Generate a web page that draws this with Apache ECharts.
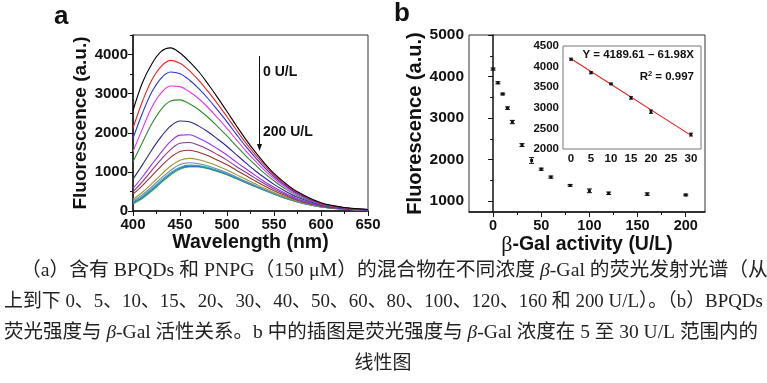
<!DOCTYPE html>
<html><head><meta charset="utf-8">
<script src="https://cdn.jsdelivr.net/npm/echarts@6/dist/echarts.min.js"></script>
<style>html,body{margin:0;padding:0;background:#fff}#c{width:767px;height:383px}</style>
</head><body><div id="c"></div>
<script>
// ---------- Panel a: emission spectra ----------
const wavelengths = [400,410,420,430,440,450,460,470,480,490,500,510,520,530,540,550,560,575,600,625,650];
const concLabels = ['0','5','10','15','20','30','40','50','60','80','100','120','160','200'];
const spec0   = [2570,3280,3760,4080,4170,4040,3820,3560,3240,2900,2545,2180,1830,1510,1220,960,750,490,210,90,40];
const spec5   = [2120,2800,3350,3700,3850,3780,3590,3340,3050,2740,2410,2070,1740,1440,1170,920,720,470,200,85,38];
const spec10  = [1860,2500,3040,3400,3555,3510,3350,3130,2870,2580,2280,1960,1650,1370,1110,880,690,450,190,80,36];
const spec15  = [1520,2100,2650,3020,3195,3180,3050,2870,2640,2380,2110,1820,1540,1280,1040,830,650,420,180,76,34];
const spec20  = [1260,1750,2230,2600,2810,2840,2740,2590,2390,2160,1920,1660,1410,1180,960,770,600,390,170,72,32];
const spec30  = [815,1180,1560,1900,2170,2300,2280,2170,2020,1840,1650,1440,1230,1030,850,680,535,350,155,66,30];
const spec40  = [576,870,1190,1500,1780,1940,1950,1860,1740,1590,1430,1250,1080,910,750,605,480,315,140,60,28];
const spec50  = [490,750,1040,1320,1570,1730,1750,1680,1570,1440,1300,1140,990,840,695,565,450,295,132,57,27];
const spec60  = [430,650,900,1150,1370,1520,1555,1500,1410,1300,1180,1040,905,770,640,520,415,275,124,54,26];
const spec80  = [300,480,700,930,1150,1300,1345,1310,1240,1150,1050,930,810,695,580,475,380,255,115,50,24];
const spec100 = [260,420,620,840,1040,1190,1232,1210,1150,1070,980,870,760,655,550,450,360,243,110,48,23];
const spec120 = [230,380,570,780,980,1120,1172,1160,1110,1035,950,845,740,638,535,440,352,237,107,47,22];
const spec160 = [205,350,540,750,950,1095,1148,1140,1095,1020,935,835,730,630,528,434,347,233,105,46,22];
const spec200 = [180,320,510,720,920,1070,1128,1125,1080,1008,925,825,722,622,522,428,342,230,103,45,21];
const spectra = [spec0,spec5,spec10,spec15,spec20,spec30,spec40,spec50,spec60,spec80,spec100,spec120,spec160,spec200];
const lineColors = ['#000000','#ee2222','#2233dd','#ee33ee','#2e8b2e','#2a2a88','#9933ee','#8a3a8a','#993333','#9a9a30','#6f86a8','#2aa6c0','#3a5fc8','#33bb33'];
const aYTicks = [0,1000,2000,3000,4000];
const aYMinor = [500,1500,2500,3500,4500];

// ---------- Panel b: intensity vs activity ----------
const activity        = [0,5,10,15,20,30,40,50,60,80,100,120,160,200];
const fluorescence    = [4180,3850,3580,3240,2905,2350,1980,1770,1580,1380,1250,1190,1170,1150];
const fluorescenceErr = [25,25,20,30,40,35,70,25,25,20,45,30,30,20];
const bXTicks = [0,50,100,150,200];
const bXMinor = [25,75,125,175];
const bYTicks = [1000,2000,3000,4000,5000];
const bYMinor = [1500,2500,3500,4500];

// ---------- Inset: linear range ----------
const insetCount = 6;
const fitLine = [[0,4189.61],[30,2330.21]];
const insetXTicks = [0,5,10,15,20,25,30];
const insetYTicks = [2000,2500,3000,3500,4000,4500];
const fitText = 'Y = 4189.61 – 61.98X';

const SANS = "'Liberation Sans', Arial, sans-serif";
const SERIF = "'Liberation Serif', 'Times New Roman', serif";
const CJK = "'Liberation Serif', 'Noto Sans CJK SC', serif";

const chart = echarts.init(document.getElementById('c'), null, {renderer:'canvas'});

function errRender(capHalf, dot) {
  return function (params, api) {
    const x = api.value(0), y = api.value(1), e = api.value(2);
    const c = api.coord([x, y]), t = api.coord([x, y + e]), b = api.coord([x, y - e]);
    const st = {stroke:'#111', lineWidth:1};
    return {type:'group', children:[
      {type:'line', shape:{x1:c[0], y1:t[1], x2:c[0], y2:b[1]}, style:st},
      {type:'line', shape:{x1:c[0]-capHalf, y1:t[1], x2:c[0]+capHalf, y2:t[1]}, style:st},
      {type:'line', shape:{x1:c[0]-capHalf, y1:b[1], x2:c[0]+capHalf, y2:b[1]}, style:st},
      {type:'rect', shape:{x:c[0]-dot/2, y:c[1]-dot/2, width:dot, height:dot}, style:{fill:'#111'}}
    ]};
  };
}

const plain = (v) => String(v);
const axisLine = {show:true, lineStyle:{color:'#111', width:1.5}};
const tickLbl = (size) => ({color:'#111', fontFamily:SANS, fontWeight:'bold', fontSize:size, formatter:plain});

function minorAxis(extra) {
  return Object.assign({type:'value', axisLine:{show:false}, axisLabel:{show:false}, splitLine:{show:false}}, extra);
}

const specSeries = spectra.map((s, i) => ({
  name: concLabels[i] + ' U/L', type:'line', xAxisIndex:0, yAxisIndex:0, smooth:0.35, symbol:'none',
  lineStyle:{color:lineColors[i], width:1.1}, color:lineColors[i],
  data: wavelengths.map((w, j) => [w, s[j]]), z: 20 - i
}));

const option = {
  backgroundColor:'#fff',
  animation:false,
  grid:[
    {left:133, top:35, width:235, height:176, show:true, borderColor:'#333', borderWidth:1, backgroundColor:'transparent'},
    {left:469, top:35, width:236, height:177, show:true, borderColor:'#333', borderWidth:1, backgroundColor:'transparent'},
    {left:563, top:46, width:138, height:103, show:true, borderColor:'#777', borderWidth:1, backgroundColor:'#fff', z:5}
  ],
  xAxis:[
    {type:'value', gridIndex:0, min:400, max:650, interval:50, position:'bottom', axisLine,
     axisTick:{length:5, lineStyle:{width:1, color:'#111'}}, minorTick:{show:true, splitNumber:2, length:3, lineStyle:{color:'#111'}},
     splitLine:{show:false}, axisLabel:Object.assign({margin:6}, tickLbl(15)),
     name:'Wavelength (nm)', nameLocation:'middle', nameGap:16,
     nameTextStyle:{fontFamily:SANS, fontWeight:'bold', fontSize:19.5, color:'#111'}},
    {type:'value', gridIndex:1, min:-25, max:220, position:'bottom', axisLine,
     axisTick:{length:5, customValues:bXTicks, lineStyle:{width:1, color:'#111'}},
     axisLabel:Object.assign({margin:6, customValues:bXTicks}, tickLbl(14.5)), splitLine:{show:false},
     name:'{g|β}-Gal activity (U/L)', nameLocation:'middle', nameGap:15,
     nameTextStyle:{fontFamily:SANS, fontWeight:'bold', fontSize:19.5, color:'#111',
       rich:{g:{fontFamily:SERIF, fontWeight:'normal', fontSize:22, color:'#111'}}}},
    minorAxis({gridIndex:1, min:-25, max:220, position:'bottom', axisTick:{show:true, length:3, customValues:bXMinor, lineStyle:{color:'#111', width:1}}}),
    {type:'value', gridIndex:2, min:-2, max:32.5, position:'bottom', axisLine:{show:false},
     axisTick:{show:false}, splitLine:{show:false},
     axisLabel:Object.assign({margin:4, customValues:insetXTicks}, tickLbl(11.5))}
  ],
  yAxis:[
    {type:'value', gridIndex:0, min:0, max:4500, position:'left', axisLine,
     axisTick:{length:5, customValues:aYTicks, lineStyle:{width:1, color:'#111'}},
     axisLabel:Object.assign({margin:5, customValues:aYTicks}, tickLbl(15)), splitLine:{show:false},
     name:'Fluorescence (a.u.)', nameLocation:'middle', nameGap:41, nameRotate:90,
     nameTextStyle:{fontFamily:SANS, fontWeight:'bold', fontSize:19, color:'#111'}},
    minorAxis({gridIndex:0, min:0, max:4500, position:'left', axisTick:{show:true, length:3, customValues:aYMinor, lineStyle:{color:'#111', width:1}}}),
    {type:'value', gridIndex:1, min:740, max:5000, position:'left', axisLine,
     axisTick:{length:5, customValues:bYTicks, lineStyle:{width:1, color:'#111'}},
     axisLabel:Object.assign({margin:5, customValues:bYTicks}, tickLbl(15.5)), splitLine:{show:false},
     name:'Fluorescence (a.u.)', nameLocation:'middle', nameGap:40, nameRotate:90,
     nameTextStyle:{fontFamily:SANS, fontWeight:'bold', fontSize:20, color:'#111'}},
    minorAxis({gridIndex:1, min:740, max:5000, position:'left', axisTick:{show:true, length:3, customValues:bYMinor, lineStyle:{color:'#111', width:1}}}),
    {type:'value', gridIndex:2, min:2000, max:4500, position:'left', axisLine:{show:false}, axisTick:{show:false}, splitLine:{show:false},
     axisLabel:Object.assign({margin:4, customValues:insetYTicks}, tickLbl(11.5))}
  ],
  series: specSeries.concat([
    {type:'custom', name:'activity', xAxisIndex:1, yAxisIndex:2, renderItem:errRender(2.5, 3),
     data: activity.map((a, i) => [a, fluorescence[i], fluorescenceErr[i]]), z:10},
    {type:'line', name:'fit', xAxisIndex:3, yAxisIndex:4, data:fitLine, symbol:'none',
     lineStyle:{color:'#e02020', width:1.1}, z:10},
    {type:'custom', name:'inset', xAxisIndex:3, yAxisIndex:4, renderItem:errRender(2, 2.5),
     data: activity.slice(0, insetCount).map((a, i) => [a, fluorescence[i], fluorescenceErr[i]]), z:11}
  ]),
  graphic:[
    {type:'text', left:54, top:4, style:{text:'a', font:"bold 26px 'Liberation Sans', Arial", fill:'#111'}},
    {type:'text', left:394, top:1, style:{text:'b', font:"bold 26px 'Liberation Sans', Arial", fill:'#111'}},
    {type:'line', shape:{x1:259.5, y1:56, x2:259.5, y2:146}, style:{stroke:'#111', lineWidth:1}},
    {type:'polygon', shape:{points:[[257,144],[262,144],[259.5,151]]}, style:{fill:'#111'}},
    {type:'text', x:263, y:72, style:{text:'0 U/L', font:"bold 14px 'Liberation Sans', Arial", fill:'#111', verticalAlign:'middle'}},
    {type:'text', x:263, y:132, style:{text:'200 U/L', font:"bold 14px 'Liberation Sans', Arial", fill:'#111', verticalAlign:'middle'}},
    {type:'text', x:694, y:55, z:20, style:{text:fitText, font:"bold 11.5px 'Liberation Sans', Arial", fill:'#111', align:'right', verticalAlign:'middle'}},
    {type:'text', x:694, y:77, z:20, style:{text:'R{s|2} = 0.997', font:"bold 11.5px 'Liberation Sans', Arial", fill:'#111', align:'right', verticalAlign:'middle',
      rich:{s:{fontSize:7.5, fontFamily:SANS, fontWeight:'bold', verticalAlign:'top', padding:[0,0,6,0]}}}},
    {type:'text', x:21, y:271, style:{text:'（a）含有 BPQDs 和 PNPG（150 μM）的混合物在不同浓度 {i|β}-Gal 的荧光发射光谱（从',
      fontSize:19.8, fontFamily:CJK, fill:'#222', verticalAlign:'middle', rich:{i:{fontStyle:'italic', fontSize:19.8, fontFamily:SERIF}}}},
    {type:'text', x:4, y:302, style:{text:'上到下 0、5、10、15、20、30、40、50、60、80、100、120、160 和 200 U/L）。（b）BPQDs',
      fontSize:18.9, fontFamily:CJK, fill:'#222', verticalAlign:'middle'}},
    {type:'text', x:4, y:333, style:{text:'荧光强度与 {i|β}-Gal 活性关系。b 中的插图是荧光强度与 {i|β}-Gal 浓度在 5 至 30 U/L 范围内的',
      fontSize:19.5, fontFamily:CJK, fill:'#222', verticalAlign:'middle', rich:{i:{fontStyle:'italic', fontSize:19.5, fontFamily:SERIF}}}},
    {type:'text', x:383, y:364, style:{text:'线性图', fontSize:19, fontFamily:CJK, fill:'#222', align:'center', verticalAlign:'middle'}}
  ]
};
chart.setOption(option);
</script>
</body></html>
